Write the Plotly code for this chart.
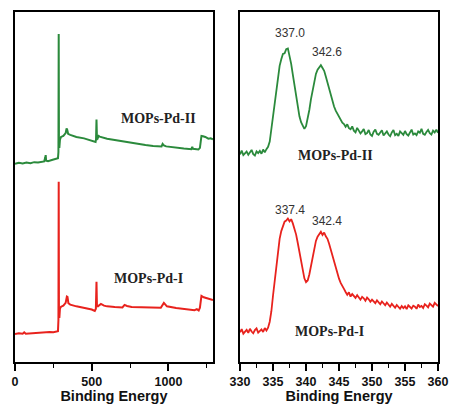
import numpy as np
import plotly.graph_objects as go

# ---------------- Survey spectra (left panel) ----------------
survey_II_x = [0, 25, 50, 75, 100, 125, 150, 175, 190, 197, 200, 203, 215, 240, 265, 280,
               283, 284.8, 286.5, 289, 293, 300, 315, 330, 336, 340, 346, 360, 400, 450,
               500, 525, 528, 531, 534, 538, 545, 552, 600, 650, 700, 750, 800, 850, 900,
               941, 955, 962, 970, 985, 1000, 1050, 1100, 1149, 1155, 1160, 1175, 1195,
               1205, 1210, 1215, 1225, 1240, 1260, 1275, 1290]
survey_II_y = [56.6, 56.9, 56.7, 57.0, 56.8, 57.1, 57.0, 57.2, 57.3, 58.4, 59.1, 57.5, 57.4,
               57.7, 57.9, 58.2, 60.0, 93.7, 62.0, 61.2, 63.5, 64.3, 64.6, 65.4, 66.7, 66.4,
               65.2, 64.9, 64.3, 63.9, 63.3, 62.9, 63.6, 69.3, 64.0, 63.8, 64.6, 64.4, 63.8,
               63.4, 63.0, 62.6, 62.3, 62.0, 61.7, 61.5, 61.6, 62.3, 61.9, 61.6, 61.5, 61.2,
               61.0, 60.8, 61.5, 60.9, 60.8, 60.7, 61.2, 63.5, 64.6, 64.5, 64.3, 63.8, 63.9,
               63.6]

survey_I_x = [0, 25, 50, 60, 70, 100, 125, 150, 175, 200, 225, 250, 275, 280, 283, 284.8,
              286.5, 289, 293, 300, 315, 330, 338, 342, 348, 360, 400, 450, 500, 520, 527,
              531, 534, 540, 560, 580, 600, 650, 700, 714, 730, 760, 800, 850, 900, 950,
              970, 990, 1050, 1100, 1150, 1170, 1185, 1197, 1205, 1210, 1215, 1230, 1250,
              1270, 1290]
survey_I_y = [8.0, 8.2, 8.1, 8.5, 8.1, 8.2, 8.3, 8.3, 8.5, 8.4, 8.6, 8.5, 8.6, 8.8, 12.0,
              51.5, 14.0, 12.6, 15.3, 15.8, 16.1, 16.9, 18.7, 18.6, 16.8, 16.4, 15.9, 15.5,
              15.0, 14.6, 15.2, 22.9, 16.0, 15.9, 16.6, 16.1, 15.9, 15.7, 15.6, 16.3, 16.0,
              15.7, 15.7, 15.6, 15.5, 15.5, 16.9, 15.9, 15.4, 15.2, 15.0, 14.8, 15.1, 14.7,
              15.5, 17.8, 18.9, 18.5, 18.3, 17.9, 17.7]

# ---------------- Pd 3d spectra (right panel), 0.25 eV steps from 330 to 360 ----------------
pd3d_II_y = [59.3, 60.4, 59.1, 59.6, 60.1, 59.2, 59.8, 60.6, 59.4, 59.0, 60.2, 59.7, 60.3,
             59.5, 60.7, 59.9, 60.8,
             61.5, 63.0, 66.5, 70.8, 74.5, 78.6, 81.9, 84.6, 86.5, 88.0, 88.2, 89.4, 89.6,
             87.6, 85.2, 82.1, 79.0, 75.8, 72.6, 70.2, 68.5, 67.3, 66.6, 67.4, 69.3, 72.0,
             75.1, 77.9, 80.4, 82.3, 83.5, 84.1, 84.8, 84.0, 83.2, 81.6, 79.8, 78.0, 76.1,
             74.5, 73.0, 71.8, 70.9, 69.9, 69.4, 68.4, 68.0,
             67.2, 67.9, 66.8, 66.5, 67.3, 66.1, 65.6, 66.9, 66.2, 65.3, 65.9, 66.6, 65.1,
             65.4, 66.3, 65.0, 64.6, 65.8, 66.4, 65.2, 64.9, 65.5, 66.2, 64.7, 65.3, 65.9,
             65.0, 64.5, 65.6, 66.3, 64.8, 65.2, 64.6, 65.9, 65.4, 64.9, 66.0, 65.1, 64.7,
             65.8, 66.4, 65.0, 65.3, 64.8, 65.9, 65.5, 66.6, 65.2, 64.9, 65.7, 66.3, 65.4,
             65.0, 66.1, 65.6, 66.4, 65.5]
pd3d_I_y = [8.5, 9.4, 8.1, 8.8, 9.2, 8.3, 9.5, 8.7, 8.2, 9.1, 9.6, 8.4, 8.9, 9.3, 8.6, 9.7,
            9.0,
            9.8, 11.5, 14.5, 19.0, 23.5, 28.0, 32.0, 35.2, 37.4, 39.0, 40.1, 40.4, 41.0,
            40.2, 40.8, 39.6, 38.3, 36.4, 34.0, 31.2, 28.3, 25.8, 23.9, 22.8, 23.3, 25.0,
            27.6, 30.4, 32.8, 34.6, 35.8, 36.5, 37.2, 36.3, 37.0, 35.9, 35.2, 33.8, 32.1,
            30.2, 28.4, 26.6, 25.0, 23.8, 22.6, 21.5, 20.9,
            20.0, 19.2, 19.9, 18.7, 19.4, 18.9, 18.3, 19.1, 18.5, 17.8, 18.6, 18.2, 17.5,
            18.4, 17.9, 17.2, 17.8, 17.4, 16.8, 17.6, 17.0, 16.5, 17.3, 16.7, 16.2, 17.0,
            16.4, 15.8, 16.6, 16.1, 15.5, 16.3, 15.7, 15.2, 16.0, 15.4, 15.9, 15.1, 16.2,
            15.6, 15.3, 16.1, 15.8, 15.2, 16.4, 15.7, 16.0, 15.4, 16.5, 16.1, 15.6, 16.7,
            16.2, 15.8, 16.9, 16.3, 16.0]
pd3d_II_x = np.linspace(330, 360, len(pd3d_II_y))
pd3d_I_x = np.linspace(330, 360, len(pd3d_I_y))

sample_labels = ["MOPs-Pd-II", "MOPs-Pd-I"]
peak_labels_II = ["337.0", "342.6"]
peak_labels_I = ["337.4", "342.4"]

GREEN = "#2b8a3c"
RED = "#e8221d"

fig = go.Figure()
fig.add_trace(go.Scatter(x=survey_II_x, y=survey_II_y, mode="lines",
                         line=dict(color=GREEN, width=2), xaxis="x", yaxis="y"))
fig.add_trace(go.Scatter(x=survey_I_x, y=survey_I_y, mode="lines",
                         line=dict(color=RED, width=2), xaxis="x", yaxis="y"))
fig.add_trace(go.Scatter(x=pd3d_II_x, y=pd3d_II_y, mode="lines",
                         line=dict(color=GREEN, width=1.8), xaxis="x2", yaxis="y2"))
fig.add_trace(go.Scatter(x=pd3d_I_x, y=pd3d_I_y, mode="lines",
                         line=dict(color=RED, width=1.8), xaxis="x2", yaxis="y2"))

tick_font = dict(family="Liberation Sans, Arial", size=12.5, color="#111", weight="bold")
title_font = dict(family="Liberation Sans, Arial", size=14.5, color="#111", weight="bold")

common_x = dict(showline=True, linecolor="black", linewidth=2, mirror=True,
                ticks="outside", ticklen=7, tickwidth=1.6, tickcolor="black",
                showgrid=False, zeroline=False, automargin=False, tickfont=tick_font)
common_y = dict(showline=True, linecolor="black", linewidth=2, mirror=True,
                showticklabels=False, ticks="", showgrid=False, zeroline=False,
                range=[0, 100], automargin=False)

fig.update_layout(
    width=450, height=404,
    margin=dict(l=15, r=12, t=12, b=42, autoexpand=False),
    paper_bgcolor="white", plot_bgcolor="white",
    showlegend=False,
    xaxis=dict(domain=[0, 0.468], range=[0, 1290], dtick=500, tick0=0,
               minor=dict(dtick=250, ticklen=4, ticks="outside", tickcolor="black", tickwidth=1.4),
               title=dict(text="Binding Energy", font=title_font, standoff=4),
               **common_x),
    xaxis2=dict(domain=[0.532, 1], range=[330, 360], dtick=5, tick0=330,
                minor=dict(dtick=2.5, ticklen=4, ticks="outside", tickcolor="black", tickwidth=1.4),
                title=dict(text="Binding Energy", font=title_font, standoff=4),
                **common_x),
    yaxis=dict(anchor="x", **common_y),
    yaxis2=dict(anchor="x2", **common_y),
)

lab_font = dict(family="Liberation Serif, Times New Roman", size=14, color="#222", weight="bold")
num_font = dict(family="Liberation Sans, Arial", size=12, color="#333")

ann = [
    dict(x=933, y=69.7, xref="x", yref="y", text=sample_labels[0], font=lab_font),
    dict(x=868, y=24.0, xref="x", yref="y", text=sample_labels[1], font=lab_font),
    dict(x=344.5, y=59.1, xref="x2", yref="y2", text=sample_labels[0], font=lab_font),
    dict(x=343.5, y=8.6, xref="x2", yref="y2", text=sample_labels[1], font=lab_font),
    dict(x=337.6, y=94.0, xref="x2", yref="y2", text=peak_labels_II[0], font=num_font),
    dict(x=343.2, y=88.6, xref="x2", yref="y2", text=peak_labels_II[1], font=num_font),
    dict(x=337.5, y=43.4, xref="x2", yref="y2", text=peak_labels_I[0], font=num_font),
    dict(x=343.2, y=40.3, xref="x2", yref="y2", text=peak_labels_I[1], font=num_font),
]
for a in ann:
    a.update(showarrow=False, xanchor="center", yanchor="middle")
fig.update_layout(annotations=ann)

fig.write_html("out.html", config={"displayModeBar": False},
               post_script="document.body.style.margin='0';document.body.style.overflow='hidden';")
